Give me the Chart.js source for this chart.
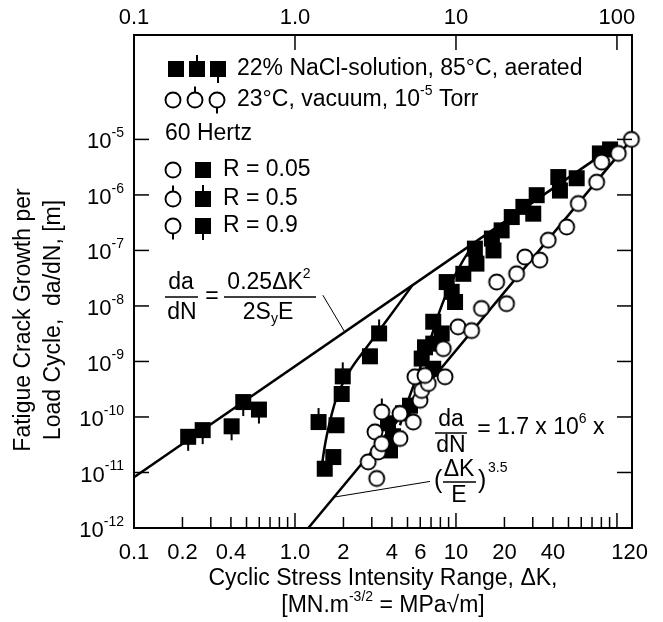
<!DOCTYPE html>
<html>
<head>
<meta charset="utf-8">
<script src="https://cdn.jsdelivr.net/npm/chart.js@4/dist/chart.umd.min.js"></script>
<style>
  html, body { margin: 0; padding: 0; background: #fff; }
</style>
</head>
<body>
<canvas id="myChart" width="663" height="622"></canvas>
<script>
// ---- data (dK in MPa*sqrt(m), rate in m/cycle) ----
const naclR09dK   = [0.217, 0.267, 0.404, 0.477, 0.597];
const naclR09Rate = [4.4e-11, 5.8e-11, 6.8e-11, 1.86e-10, 1.36e-10];

const naclR05dK   = [1.40, 1.98, 3.33];
const naclR05Rate = [8.1e-11, 5.4e-10, 3.2e-9];

const naclR005dK   = [2.92, 1.95, 1.81, 1.73, 1.53,
                      3.89, 4.06, 3.78, 4.69, 5.18, 6.12, 6.42, 7.22, 7.22, 7.22, 8.15,
                      8.75, 9.87, 9.4, 11.1, 13.1, 13.4, 16.7, 17.1, 19.2, 22.2, 26.2,
                      30.2, 31.7, 43.2, 44.2, 56.2, 78.3, 90.6];
const naclR005Rate = [1.24e-9, 2.6e-10, 7.1e-11, 1.9e-11, 1.17e-11,
                      2.5e-11, 4.5e-11, 7.7e-11, 1.17e-10, 1.6e-10, 1.13e-9, 1.8e-9, 7.4e-10, 5.2e-9, 2.1e-9, 3.2e-9,
                      2.7e-8, 1.18e-8, 1.8e-8, 3.8e-8, 1.08e-7, 5.8e-8, 1.64e-7, 1.0e-7, 2.3e-7, 4.0e-7, 6.1e-7,
                      4.6e-7, 9.9e-7, 2.1e-6, 1.2e-6, 2.0e-6, 5.6e-6, 6.6e-6];

const vacR005dK   = [2.85, 3.22, 3.29, 3.14, 3.46, 4.49, 4.49, 5.43, 5.98, 6.12, 6.73, 5.56,
                     6.42, 8.55, 8.34, 10.3, 12.5, 14.4, 20.6, 17.9, 23.8, 26.8, 33.2, 37.4,
                     48.7, 57.5, 74.8, 80.4, 101.9, 123];
const vacR005Rate = [1.55e-11, 7.8e-12, 2.34e-11, 5.4e-11, 3.3e-11, 1.15e-10, 4.1e-11, 8.1e-11, 2.0e-10, 3.0e-10, 4.0e-10, 5.3e-10,
                     5.6e-10, 5.3e-10, 1.7e-9, 4.2e-9, 3.6e-9, 9.0e-9, 1.1e-8, 2.7e-8, 3.8e-8, 7.6e-8, 6.7e-8, 1.53e-7,
                     2.65e-7, 7.0e-7, 1.7e-6, 3.9e-6, 5.6e-6, 1.0e-5];

const vacR05dK   = [3.46];
const vacR05Rate = [1.23e-10];

// fitted lines and curves
const lawSqdK   = [0.1, 75];
const lawSqRate = [8.2e-12, 4.6e-6];
const lawVacdK   = [1.21, 123];
const lawVacRate = [1e-12, 1e-5];
const curve1dK   = [1.445, 1.57, 1.82, 2.2, 2.79, 3.72, 5.33];
const curve1Rate = [9.7e-12, 4.4e-11, 2.3e-10, 6.9e-10, 1.8e-9, 5.5e-9, 2.3e-8];
const curve2dK   = [4.49, 5.18, 5.97, 6.9, 7.96, 9.19, 10.9, 13.1];
const curve2Rate = [7.1e-11, 2.46e-10, 7.5e-10, 2.4e-9, 8.4e-9, 2.36e-8, 6.1e-8, 1.4e-7];
const leader1dK   = [1.49, 2.04];
const leader1Rate = [1.56e-8, 3.37e-9];
const leader2dK   = [6.9, 1.75];
const leader2Rate = [6.9e-12, 3.6e-12];

// axis ticks
const bottomTickVals = [0.1, 0.2, 0.4, 1, 2, 4, 6, 10, 20, 40, 120];
const bottomTickText = ['0.1', '0.2', '0.4', '1.0', '2', '4', '6', '10', '20', '40', '120'];
const topTickVals = [0.1, 1, 10, 100];
const topTickText = ['0.1', '1.0', '10', '100'];
const yExponents = [-5, -6, -7, -8, -9, -10, -11, -12];

const FONT = '"Liberation Sans", Arial, Helvetica, sans-serif';
Chart.defaults.font.family = FONT;
Chart.defaults.color = '#000';

function pts(xs, ys) { return xs.map((x, i) => ({x: x, y: ys[i]})); }

function marker(shape, stem) {
  const c = document.createElement('canvas');
  c.width = 22; c.height = 36;
  const g = c.getContext('2d');
  const cx = 11, cy = 18;
  g.strokeStyle = '#000'; g.fillStyle = '#000'; g.lineWidth = 2;
  const half = shape === 'sq' ? 8 : 7.5;
  if (stem) {
    g.beginPath();
    g.moveTo(cx, cy);
    g.lineTo(cx, stem === 'up' ? cy - half - 6 : cy + half + 6);
    g.stroke();
  }
  if (shape === 'sq') {
    g.fillRect(cx - half, cy - half, half * 2, half * 2);
  } else {
    g.beginPath();
    g.arc(cx, cy, half, 0, Math.PI * 2);
    g.fillStyle = '#fff'; g.fill();
    g.lineWidth = 1.9; g.stroke();
  }
  return c;
}
const mk = {
  sq: marker('sq'), sqUp: marker('sq', 'up'), sqDn: marker('sq', 'down'),
  ci: marker('ci'), ciUp: marker('ci', 'up'), ciDn: marker('ci', 'down')
};

function pointSet(xs, ys, style, order) {
  return { data: pts(xs, ys), pointStyle: style, pointRadius: 8, showLine: false, order: order, clip: false };
}
function lineSet(xs, ys, width, tension) {
  return { data: pts(xs, ys), showLine: true, pointRadius: 0, borderColor: '#000', borderWidth: width,
           tension: tension || 0, fill: false, order: 3 };
}

// text with super/subscripts: parts = [[text, size, dy], ...]
function rich(ctx, parts, x, y, align) {
  let w = 0;
  parts.forEach(p => { ctx.font = p[1] + 'px ' + FONT; w += ctx.measureText(p[0]).width; });
  let cx = align === 'right' ? x - w : align === 'center' ? x - w / 2 : x;
  ctx.textAlign = 'left';
  ctx.textBaseline = 'middle';
  parts.forEach(p => {
    ctx.font = p[1] + 'px ' + FONT;
    ctx.fillText(p[0], cx, y + (p[2] || 0));
    cx += ctx.measureText(p[0]).width;
  });
}
function hline(ctx, x1, x2, y, w) {
  ctx.beginPath(); ctx.lineWidth = w || 1.5; ctx.moveTo(x1, y); ctx.lineTo(x2, y); ctx.stroke();
}

const extras = {
  id: 'extras',
  afterDraw(chart) {
    const ctx = chart.ctx;
    const xs = chart.scales.x, ys = chart.scales.y;
    const a = chart.chartArea;
    ctx.save();
    ctx.strokeStyle = '#000'; ctx.fillStyle = '#000';

    // inward ticks
    ctx.lineWidth = 1.5;
    for (let d = -1; d <= 2; d++) {
      for (let m = 1; m <= 9; m++) {
        const v = m * Math.pow(10, d);
        if (v <= 0.1 || v > 124) continue;
        const px = xs.getPixelForValue(v);
        const len = m === 1 ? 15 : 11;
        ctx.beginPath(); ctx.moveTo(px, a.bottom); ctx.lineTo(px, a.bottom - len); ctx.stroke();
        if (m === 1) { ctx.beginPath(); ctx.moveTo(px, a.top); ctx.lineTo(px, a.top + 15); ctx.stroke(); }
      }
    }
    yExponents.forEach(e => {
      if (e === -12) return;
      const py = ys.getPixelForValue(Math.pow(10, e));
      ctx.beginPath(); ctx.moveTo(a.left, py); ctx.lineTo(a.left + 15, py); ctx.stroke();
      ctx.beginPath(); ctx.moveTo(a.right, py); ctx.lineTo(a.right - 15, py); ctx.stroke();
    });

    // y tick labels with superscripts
    yExponents.forEach(e => {
      const py = ys.getPixelForValue(Math.pow(10, e));
      rich(ctx, [['10', 22, 0], [String(e), 14, -9]], a.left - 10, py + 3, 'right');
    });

    // axis titles
    ctx.save();
    ctx.translate(24, 320); ctx.rotate(-Math.PI / 2);
    rich(ctx, [['Fatigue Crack Growth per', 23, 0]], 0, 0, 'center');
    rich(ctx, [['Load Cycle,  da/dN, [m]', 23, 0]], 0, 30, 'center');
    ctx.restore();
    const cxT = (a.left + a.right) / 2;
    rich(ctx, [['Cyclic Stress Intensity Range, \u0394K,', 23, 0]], cxT, 579, 'center');
    rich(ctx, [['[MN.m', 23, 0], ['-3/2', 14, -9], [' = MPa\u221Am]', 23, 0]], cxT, 606, 'center');

    // legend
    const sym = (c, x, y) => ctx.drawImage(c, x - c.width / 2, y - c.height / 2);
    sym(mk.sq, 176, 69); sym(mk.sqUp, 197, 69); sym(mk.sqDn, 218, 69);
    rich(ctx, [['22% NaCl-solution, 85\u00B0C, aerated', 23, 0]], 237, 69, 'left');
    sym(mk.ci, 173, 100); sym(mk.ciUp, 195, 100); sym(mk.ciDn, 217, 100);
    rich(ctx, [['23\u00B0C, vacuum, 10', 23, 0], ['-5', 14, -9], [' Torr', 23, 0]], 237, 100, 'left');
    rich(ctx, [['60 Hertz', 23, 0]], 165, 134, 'left');
    sym(mk.ci, 173, 170); sym(mk.sq, 203, 170);
    rich(ctx, [['R = 0.05', 23, 0]], 223, 170, 'left');
    sym(mk.ciUp, 173, 199); sym(mk.sqUp, 203, 199);
    rich(ctx, [['R = 0.5', 23, 0]], 223, 199, 'left');
    sym(mk.ciDn, 173, 226); sym(mk.sqDn, 203, 226);
    rich(ctx, [['R = 0.9', 23, 0]], 223, 226, 'left');

    // equation 1
    rich(ctx, [['da', 23, 0]], 181, 283, 'center');
    hline(ctx, 165, 198, 297);
    rich(ctx, [['dN', 23, 0]], 182, 313, 'center');
    rich(ctx, [['=', 23, 0]], 212, 297, 'center');
    rich(ctx, [['0.25\u0394K', 23, 0], ['2', 14, -9]], 269, 283, 'center');
    hline(ctx, 224, 316, 297);
    rich(ctx, [['2S', 23, 0], ['y', 14, 6], ['E', 23, 0]], 268, 313, 'center');

    // equation 2
    rich(ctx, [['da', 23, 0]], 451, 420, 'center');
    hline(ctx, 435, 467, 433);
    rich(ctx, [['dN', 23, 0]], 451, 446, 'center');
    rich(ctx, [['=', 23, 0]], 484, 430, 'center');
    rich(ctx, [['1.7 x 10', 23, 0], ['6', 14, -9], [' x', 23, 0]], 497, 428, 'left');
    rich(ctx, [['(', 25, 0]], 434, 481, 'left');
    rich(ctx, [['\u0394K', 23, 0]], 459, 470, 'center');
    hline(ctx, 443, 476, 482);
    rich(ctx, [['E', 23, 0]], 459, 496, 'center');
    rich(ctx, [[')', 25, 0]], 478, 481, 'left');
    rich(ctx, [['3.5', 14, 0]], 488, 468, 'left');

    ctx.restore();
  }
};

function xAxis(position, vals, text, height, pad) {
  return {
    type: 'logarithmic', position: position, min: 0.1, max: 124,
    grid: { display: false, drawTicks: false },
    border: { display: true, color: '#000', width: 2 },
    ticks: { color: '#000', font: { size: 22 }, padding: pad, autoSkip: false, maxRotation: 0, minRotation: 0,
             callback: (v, i) => text[i] },
    afterBuildTicks: s => { s.ticks = vals.map(v => ({ value: v })); },
    afterFit: s => { s.height = height; }
  };
}
function yAxis(position, width) {
  return {
    type: 'logarithmic', position: position, min: 1e-12, max: 7.6e-4,
    grid: { display: false, drawTicks: false },
    border: { display: true, color: '#000', width: 2 },
    ticks: { display: false },
    afterFit: s => { s.width = width; }
  };
}

new Chart(document.getElementById('myChart'), {
  type: 'scatter',
  data: {
    datasets: [
      pointSet(vacR005dK, vacR005Rate, mk.ci, 0),
      pointSet(vacR05dK, vacR05Rate, mk.ciUp, 0),
      pointSet(naclR005dK, naclR005Rate, mk.sq, 1),
      pointSet(naclR05dK, naclR05Rate, mk.sqUp, 1),
      pointSet(naclR09dK, naclR09Rate, mk.sqDn, 1),
      lineSet(lawSqdK, lawSqRate, 2.5),
      lineSet(lawVacdK, lawVacRate, 2.5),
      lineSet(curve1dK, curve1Rate, 2.5, 0.35),
      lineSet(curve2dK, curve2Rate, 2.5, 0.35),
      lineSet(leader1dK, leader1Rate, 1),
      lineSet(leader2dK, leader2Rate, 1)
    ]
  },
  options: {
    responsive: false,
    animation: false,
    devicePixelRatio: 1,
    layout: { padding: 0 },
    plugins: { legend: { display: false }, tooltip: { enabled: false } },
    scales: {
      x: xAxis('bottom', bottomTickVals, bottomTickText, 94, 12),
      x2: xAxis('top', topTickVals, topTickText, 35, 4),
      y: yAxis('left', 134),
      y2: yAxis('right', 31)
    }
  },
  plugins: [extras]
});
</script>
</body>
</html>
